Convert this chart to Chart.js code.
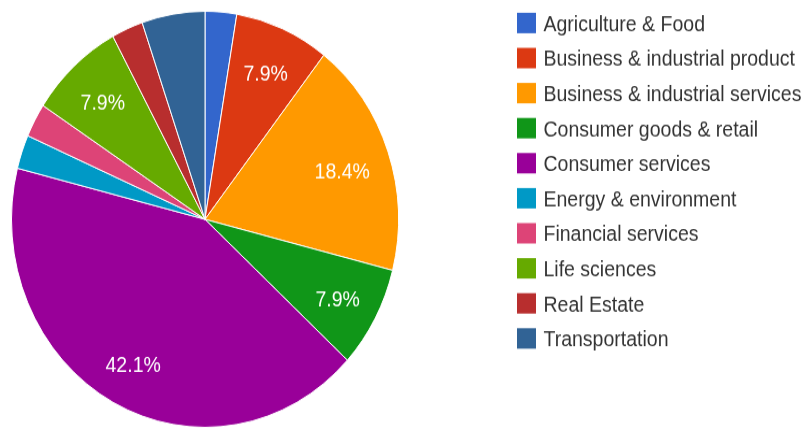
<!DOCTYPE html>
<html>
<head>
<meta charset="utf-8">
<script src="https://cdn.jsdelivr.net/npm/chart.js@4.4.1/dist/chart.umd.min.js"></script>
<style>
  html, body { margin: 0; padding: 0; background: #fff; }
</style>
</head>
<body>
<!-- drawn at 812x400 and shown a bit taller -->
<canvas id="myChart" width="812" height="400" style="display:block;width:812px;height:430px"></canvas>
<script>
const sectors = [
    'Agriculture & Food',
    'Business & industrial product',
    'Business & industrial services',
    'Consumer goods & retail',
    'Consumer services',
    'Energy & environment',
    'Financial services',
    'Life sciences',
    'Real Estate',
    'Transportation'
];
const deals = [1, 3, 7, 3, 16, 1, 1, 3, 1, 2];
const colors = [
    '#3366cc', '#dc3912', '#ff9900', '#109618', '#990099',
    '#0099c6', '#dd4477', '#66aa00', '#b82e2e', '#316395'
];

const FONT = '19.5px Arial, "Liberation Sans", sans-serif';

// white percent text inside the bigger slices
const sliceText = {
    id: 'sliceText',
    afterDatasetsDraw(chart) {
        const c = chart.ctx;
        const total = deals.reduce((a, b) => a + b, 0);
        c.save();
        c.font = FONT;
        c.fillStyle = '#fff';
        c.textAlign = 'center';
        c.textBaseline = 'middle';
        chart.getDatasetMeta(0).data.forEach((arc, i) => {
            const share = deals[i] / total;
            if (share < 0.07) return;
            const p = arc.getProps(['x', 'y', 'startAngle', 'endAngle', 'outerRadius'], true);
            const mid = (p.startAngle + p.endAngle) / 2;
            const r = p.outerRadius * (share > 0.15 && share < 0.3 ? 0.75 : 0.78);
            c.fillText((share * 100).toFixed(1) + '%', p.x + Math.cos(mid) * r, p.y + Math.sin(mid) * r + 4);
        });
        c.restore();
    }
};

// legend list on the right
const sideLegend = {
    id: 'sideLegend',
    afterDraw(chart) {
        const c = chart.ctx;
        const ds = chart.data.datasets[0];
        c.save();
        c.font = FONT;
        c.textAlign = 'left';
        c.textBaseline = 'middle';
        chart.data.labels.forEach((label, i) => {
            const cy = 21.4 + i * 32.6;
            c.fillStyle = ds.backgroundColor[i];
            c.fillRect(517, cy - 9.5, 19, 19);
            c.fillStyle = '#333';
            c.fillText(label, 543.5, cy + 2);
        });
        c.restore();
    }
};

const ctx = document.getElementById('myChart').getContext('2d');
const myChart = new Chart(ctx, {
    type: 'pie',
    data: {
        labels: sectors,
        datasets: [{
            data: deals,
            backgroundColor: colors,
            borderColor: '#fff',
            borderWidth: 1,
            hoverOffset: 0
        }]
    },
    options: {
        responsive: false,
        animation: false,
        layout: {
            padding: { left: 11, right: 413, top: 10, bottom: 2 }
        },
        plugins: {
            legend: { display: false },
            tooltip: { enabled: false }
        }
    },
    plugins: [sliceText, sideLegend]
});
</script>
</body>
</html>
